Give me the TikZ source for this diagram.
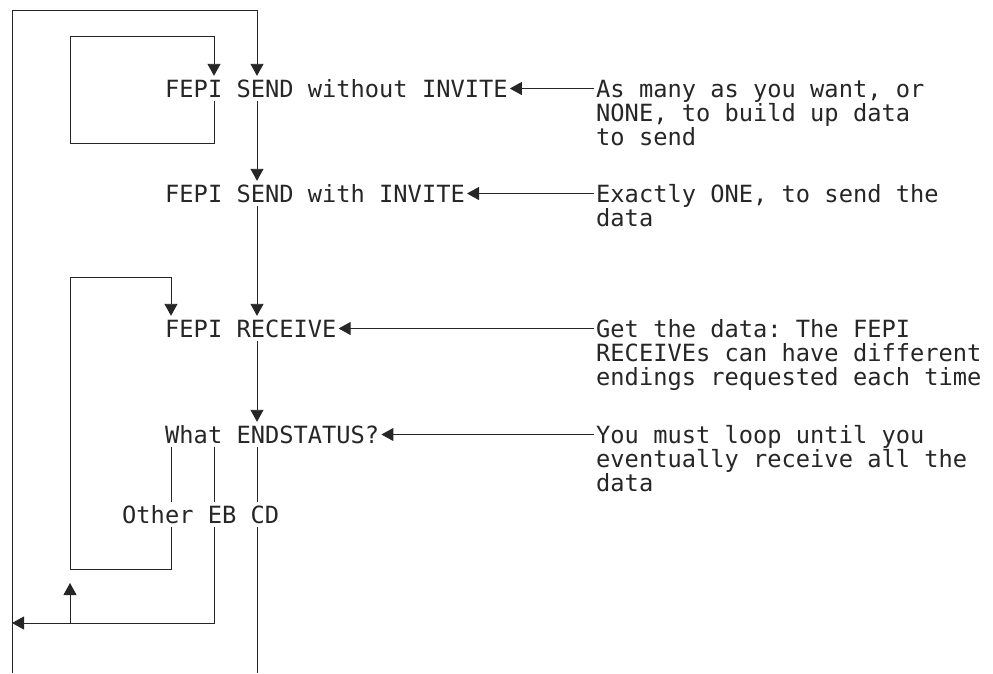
\documentclass[tikz,border=0pt]{standalone}
\usepackage{fontspec}
\setmonofont{DejaVu Sans Mono}
\usepackage{tikz}
\usetikzlibrary{arrows.meta}

\tikzset{
    stmt/.style={anchor=base west, inner xsep=2pt, inner ysep=4pt, text height=17pt, text depth=0pt,
        font=\ttfamily\fontsize{23.7}{24}\selectfont, text=black!85},
    note/.style={anchor=base west, inner xsep=2pt, inner ysep=0pt, align=left,
        font=\ttfamily\fontsize{23.7}{24}\selectfont, text=black!85},
    flow/.style={line width=0.9pt, black!85},
    arr/.style={flow, -{Triangle[length=12pt,width=13pt]}}
}

\begin{document}
\begin{tikzpicture}[x=1pt, y=-1pt]
        \useasboundingbox (0,0) rectangle (993,673);

        \node[stmt] (S1) at (163, 97) {FEPI SEND without INVITE};
        \node[stmt] (S2) at (163, 202) {FEPI SEND with INVITE};
        \node[stmt] (R) at (163, 337) {FEPI RECEIVE};
        \node[stmt] (W) at (163, 443) {What ENDSTATUS?};
        \node[stmt] (O) at (120, 523) {Other EB CD};

        % notes sit on the baseline of their last line
        \node[note] (N1) at (594, 145) {As many as you want, or\\NONE, to build up data\\to send};
        \node[note] (N2) at (594, 226) {Exactly ONE, to send the\\data};
        \node[note] (N3) at (594, 385) {Get the data: The FEPI\\RECEIVEs can have different\\endings requested each time};
        \node[note] (N4) at (594, 491) {You must loop until you\\eventually receive all the\\data};

        % columns and corners
        \coordinate (cA) at (171, 0);
        \coordinate (cB) at (214, 0);
        \coordinate (cC) at (257, 0);
        \coordinate (top) at (12, 10);
        \coordinate (bot) at (12, 673);
        \coordinate (box1) at (70, 36);
        \coordinate (box2) at (70, 143);
        \coordinate (loop1) at (70, 277);
        \coordinate (loop2) at (70, 569);
        \coordinate (back) at (12, 623);
        \coordinate (up) at (70, 583);

        \draw[arr] (bot) -- (top) -| (S1.north -| cC);
        \draw[arr] (S1.south -| cB) |- (box2) -- (box1) -| (S1.north -| cB);
        \draw[arr] (S1.south -| cC) -- (S2.north -| cC);
        \draw[arr] (S2.south -| cC) -- (R.north -| cC);
        \draw[arr] (R.south -| cC) -- (W.north -| cC);

        \draw[flow] (W.south -| cA) -- (O.north -| cA);
        \draw[flow] (W.south -| cB) -- (O.north -| cB);
        \draw[flow] (W.south -| cC) -- (O.north -| cC);

        \draw[arr] (O.south -| cA) |- (loop2) -- (loop1) -| (R.north -| cA);
        \draw[arr] (O.south -| cB) |- (back);
        \draw[arr] (up |- back) -- (up);
        \draw[flow] (O.south -| cC) -- (bot -| cC);

        \draw[arr] (N1.west |- S1.east) -- (S1.east);
        \draw[arr] (N2.west |- S2.east) -- (S2.east);
        \draw[arr] (N3.west |- R.east) -- (R.east);
        \draw[arr] (N4.west |- W.east) -- (W.east);
    \end{tikzpicture}
\end{document}
